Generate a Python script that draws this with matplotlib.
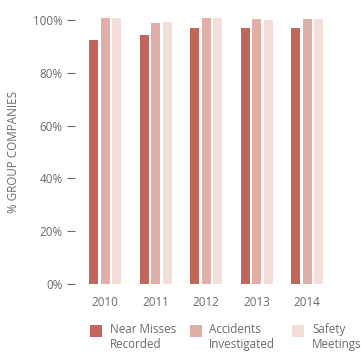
import matplotlib
matplotlib.use("Agg")
import matplotlib.pyplot as plt
from matplotlib.patches import Rectangle
import numpy as np

years = ["2010", "2011", "2012", "2013", "2014"]
near_misses = [92.5, 94.5, 97.0, 97.0, 97.0]
accidents_investigated = [100.8, 99.0, 100.8, 100.4, 100.4]
safety_meetings = [100.8, 99.2, 100.8, 100.0, 100.4]
series_labels = ["Near Misses\nRecorded", "Accidents\nInvestigated", "Safety\nMeetings"]
colors = ["#c0665b", "#e0b0a8", "#f4ded9"]
yticks = [0, 20, 40, 60, 80, 100]

plt.rcParams["font.family"] = ["Open Sans", "DejaVu Sans"]
text_color = "#6b6b6b"
fs = 8.4

W, H = 361, 352
fig = plt.figure(figsize=(W / 100, H / 100), dpi=100)

# axes placed in pixel terms: y=0 at 284px, 2.64px per percent
left_px, right_px = 75, 345
bottom_px = 284
ppp = 2.64
ymax = 106
ax = fig.add_axes([left_px / W, (H - bottom_px) / H,
                   (right_px - left_px) / W, ymax * ppp / H])

group_px = 50.5
x = np.arange(len(years))
width = 9 / group_px
offset = 11.5 / group_px
for vals, off, c in zip([near_misses, accidents_investigated, safety_meetings],
                        [-offset, 0, offset], colors):
    ax.bar(x + off, vals, width=width, color=c, linewidth=0)

ax.set_xlim((left_px - 105) / group_px, (right_px - 105) / group_px)
ax.set_ylim(0, ymax)
ax.set_yticks(yticks)
ax.set_yticklabels([f"{v}%" for v in yticks])
ax.set_xticks(x)
ax.set_xticklabels(years)
for s in ax.spines.values():
    s.set_visible(False)
ax.tick_params(axis="y", direction="out", length=5.8, width=0.8, pad=3,
               color=text_color, labelcolor=text_color, labelsize=fs)
ax.tick_params(axis="x", length=0, pad=9, labelcolor=text_color, labelsize=fs)
ax.set_ylabel("% GROUP COMPANIES", color=text_color, fontsize=fs)
ax.yaxis.set_label_coords(-(left_px - 20) / (right_px - left_px),
                          (bottom_px - 152) / (ymax * ppp))

# legend drawn as swatches with two-line labels
leg_items = [(90, 110), (190, 209), (292, 312)]
for (sx, tx), lab, c in zip(leg_items, series_labels, colors):
    fig.add_artist(Rectangle((sx / W, (H - 337) / H), 12 / W, 12 / H,
                             transform=fig.transFigure, color=c, lw=0))
    fig.text(tx / W, (H - 323) / H, lab, ha="left", va="top",
             color=text_color, fontsize=fs, linespacing=1.2)

fig.savefig("out.png", dpi=100)
